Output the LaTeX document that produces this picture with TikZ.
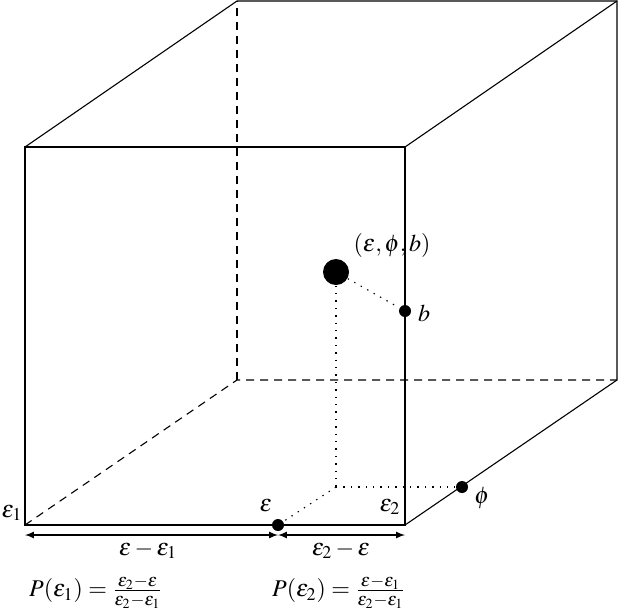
\documentclass[tikz,border=0pt]{standalone}
\usepackage{mathptmx}
\usetikzlibrary{arrows}

\begin{document}
\begin{tikzpicture}[x=0.5pt,y=-0.5pt,line width=0.55pt,
	every node/.style={font=\fontsize{12}{14}\selectfont},
	smalldot/.style={circle,fill,inner sep=0pt,minimum size=6pt},
	bigdot/.style={circle,fill,inner sep=0pt,minimum size=13pt},
	hidden/.style={dash pattern=on 4pt off 3pt},
	proj/.style={dash pattern=on 0.7pt off 3pt}]
		\useasboundingbox (0,0) rectangle (619,611);

		% corners of the cube
		\coordinate (fbl) at (25,525);
		\coordinate (fbr) at (405,525);
		\coordinate (ftr) at (405,147);
		\coordinate (ftl) at (25,147);
		\coordinate (bbl) at (237,380);
		\coordinate (bbr) at (617,380);
		\coordinate (btr) at (617,1);
		\coordinate (btl) at (237,1);

		\draw (fbl) -- (fbr) -- (ftr) -- (ftl) -- cycle;
		\draw (ftl) -- (btl) -- (btr) -- (bbr) -- (fbr);
		\draw (ftr) -- (btr);
		\draw[hidden] (fbl) -- (bbl) -- (bbr);
		\draw[hidden] (bbl) -- (btl);

		% point and its projections
		\node[bigdot] (pt) at (336,272) {};
		\node[smalldot] (bdot) at (405,311) {};
		\node[smalldot] (edot) at (278,525) {};
		\node[smalldot] (pdot) at (462,487) {};
		\coordinate (foot) at (336,487);

		\draw[proj] (pt) -- (bdot);
		\draw[proj] (pt) -- (foot);
		\draw[proj] (foot) -- (pdot);
		\draw[proj] (foot) -- (edot);

		% distances
		\coordinate (al) at (25,535);
		\coordinate (ae) at (278,535);
		\coordinate (ar) at (405,535);
		\draw[latex-latex] (al) -- (ae);
		\draw[latex-latex] (ae) -- (ar);

		\node (lpt) at (392,245) {$(\varepsilon,\phi,b)$};
		\node (lb) at (424,313) {$b$};
		\node (lphi) at (482,498) {$\phi$};
		\node (leps) at (266,506) {$\varepsilon$};
		\node (leone) at (12,513) {$\varepsilon_1$};
		\node (letwo) at (390,507) {$\varepsilon_2$};
		\node (ldl) at (148,550) {$\varepsilon-\varepsilon_1$};
		\node (ldr) at (341,550) {$\varepsilon_2-\varepsilon$};
		\node (pone) at (96,592) {$P(\varepsilon_1)=\frac{\varepsilon_2-\varepsilon}{\varepsilon_2-\varepsilon_1}$};
		\node (ptwo) at (339,592) {$P(\varepsilon_2)=\frac{\varepsilon-\varepsilon_1}{\varepsilon_2-\varepsilon_1}$};
	\end{tikzpicture}
\end{document}
